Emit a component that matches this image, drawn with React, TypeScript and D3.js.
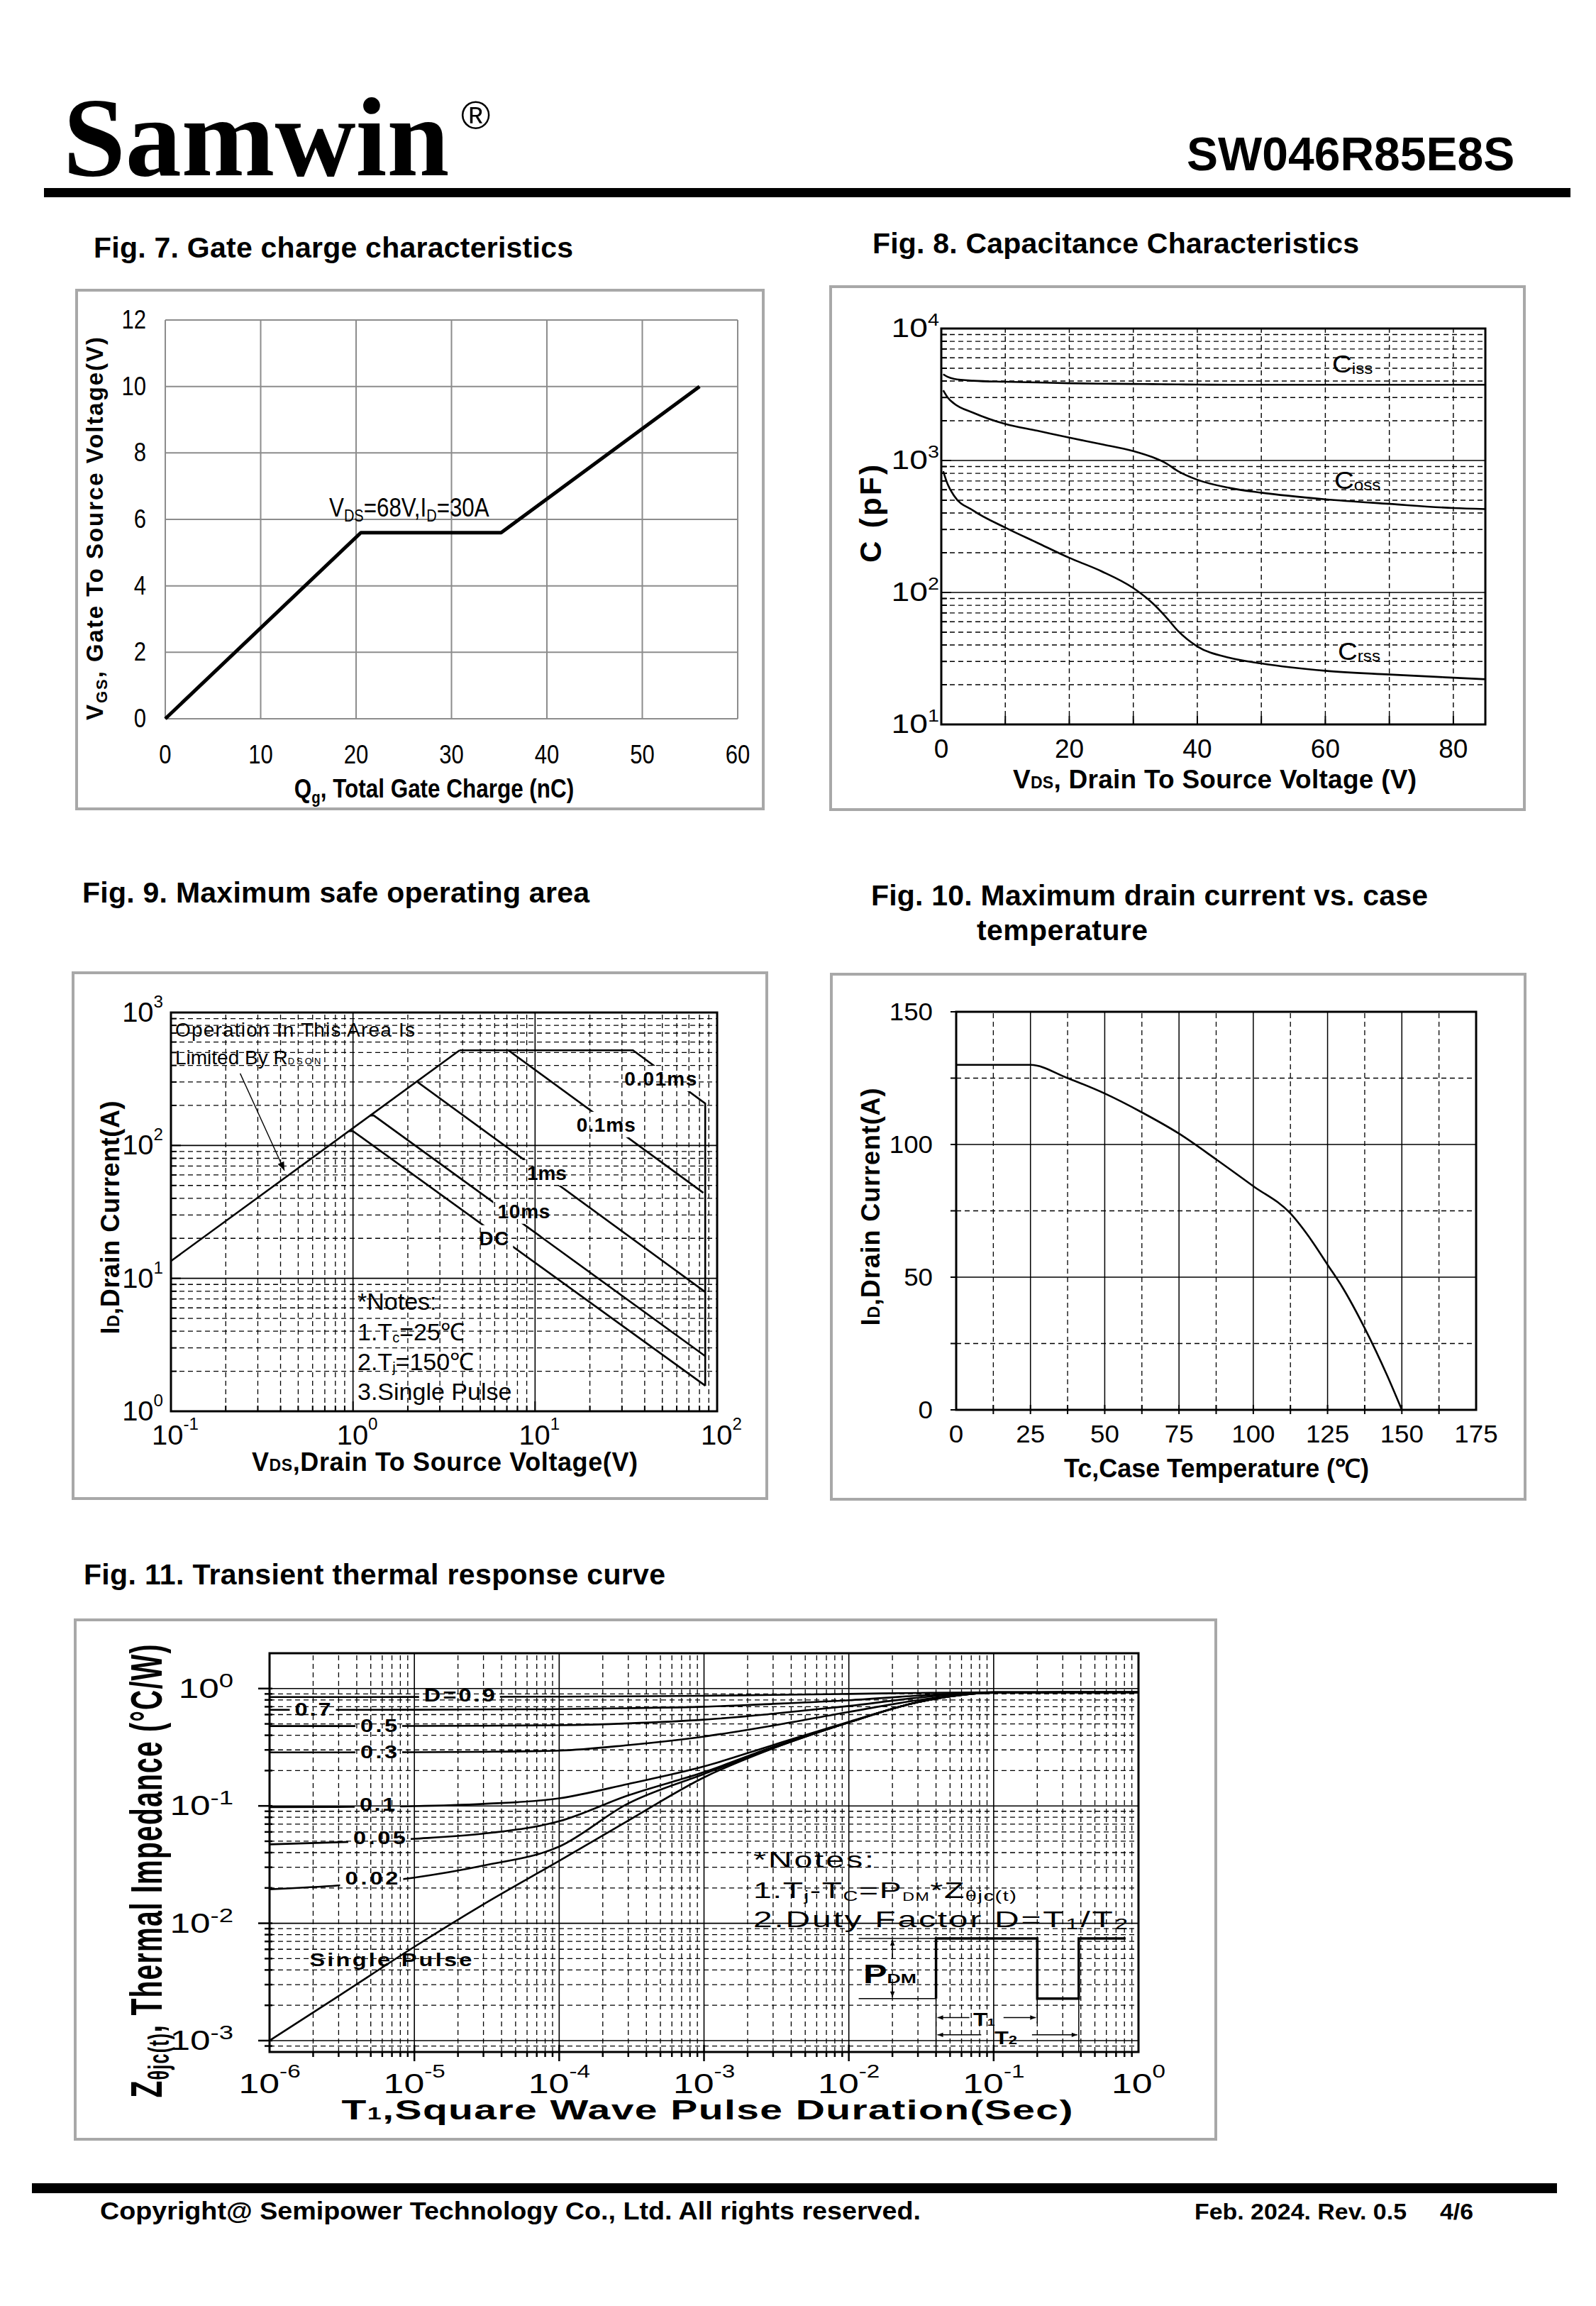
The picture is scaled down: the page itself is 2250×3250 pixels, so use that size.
import React from "react";
import * as d3 from "d3";

// ---------- Fig. 7 gate charge ----------
const qgNc = [0, 20.5, 35.2, 56];
const vgsV = [0, 5.6, 5.6, 10];
const fig7XTicks = [0, 10, 20, 30, 40, 50, 60];
const fig7YTicks = [0, 2, 4, 6, 8, 10, 12];

// ---------- Fig. 8 capacitance ----------
const capVds = [0.3, 1, 2, 5, 10, 15, 20, 25, 30, 33, 35, 37, 40, 45, 50, 60, 70, 80, 85];
const cissPf = [4500, 4300, 4150, 4020, 3950, 3900, 3850, 3820, 3800, 3790, 3780, 3770, 3760, 3750, 3750, 3750, 3750, 3750, 3750];
const cossPf = [3400, 3000, 2700, 2300, 1890, 1680, 1490, 1330, 1180, 1060, 960, 830, 715, 620, 570, 508, 469, 436, 428];
const crssPf = [830, 660, 540, 417, 310, 238, 183, 145, 108, 83, 66, 51, 39, 32, 29, 25.5, 23.9, 22.6, 22];
const fig8XTicks = [0, 20, 40, 60, 80];
const fig8XGrid = [10, 20, 30, 40, 50, 60, 70, 80];
const fig8Exps = [1, 2, 3, 4];

// ---------- Fig. 9 safe operating area ----------
const soaRdsVds = [0.1, 3.85];
const soaRdsId = [13.5, 520];
const soa10usVds = [3.85, 34.5, 86, 86];
const soa10usId = [520, 520, 207, 1.55];
const soa100usVds = [7.13, 84];
const soa100usId = [520, 44];
const soa1msVds = [2.26, 86];
const soa1msId = [300, 7.9];
const soa10msVds = [1.24, 1.3, 86];
const soa10msId = [168, 168, 2.6];
const soaDcVds = [0.95, 1.0, 86];
const soaDcId = [128, 128, 1.56];
const soaLabels = ["0.01ms", "0.1ms", "1ms", "10ms", "DC"];
const soaLabelVds = [48.9, 24.5, 11.6, 8.67, 5.94];
const soaLabelId = [282, 127, 55, 28.4, 17.8];
const soaLabelW = [102, 83, 56, 74, 42];
const fig9XExps = [-1, 0, 1, 2];
const fig9YExps = [0, 1, 2, 3];

// ---------- Fig. 10 drain current vs case temperature ----------
const tcC = [0, 25, 37.5, 50, 62.5, 75, 87.5, 100, 112.5, 120, 125, 130, 137.5, 145, 150];
const idMaxA = [130, 130, 125, 119.2, 112.1, 104.1, 94.4, 84.3, 74, 63.2, 54.7, 46.2, 30.8, 13.1, 0];
const fig10XTicks = [0, 25, 50, 75, 100, 125, 150, 175];
const fig10YTicks = [0, 50, 100, 150];

// ---------- Fig. 11 transient thermal response ----------
const pulseSec = [1e-6, 3e-6, 1e-5, 3e-5, 1e-4, 3e-4, 1e-3, 3e-3, 1e-2, 3e-2, 1e-1, 3e-1, 1];
const zD09 = [0.847, 0.847, 0.848, 0.85, 0.853, 0.858, 0.868, 0.882, 0.9, 0.918, 0.93, 0.93, 0.93];
const zD07 = [0.659, 0.659, 0.66, 0.663, 0.668, 0.68, 0.7, 0.74, 0.795, 0.87, 0.93, 0.93, 0.93];
const zD05 = [0.479, 0.479, 0.48, 0.482, 0.487, 0.505, 0.543, 0.61, 0.71, 0.835, 0.93, 0.93, 0.93];
const zD03 = [0.286, 0.286, 0.287, 0.289, 0.296, 0.33, 0.39, 0.484, 0.632, 0.795, 0.93, 0.93, 0.93];
const zD01 = [0.0975, 0.098, 0.0995, 0.104, 0.116, 0.154, 0.217, 0.33, 0.52, 0.765, 0.92, 0.93, 0.93];
const zD005 = [0.047, 0.049, 0.0525, 0.058, 0.074, 0.123, 0.194, 0.318, 0.515, 0.765, 0.92, 0.93, 0.93];
const zD002 = [0.0195, 0.021, 0.0245, 0.031, 0.045, 0.105, 0.187, 0.311, 0.515, 0.765, 0.92, 0.93, 0.93];
const zSingle = [0.001, 0.0024, 0.0063, 0.0145, 0.034, 0.075, 0.175, 0.31, 0.515, 0.765, 0.92, 0.93, 0.93];
const dutyLabels = ["D=0.9", "0.7", "0.5", "0.3", "0.1", "0.05", "0.02", "Single Pulse"];
const dutyLabelSec = [2.05e-5, 1.99e-6, 5.68e-6, 5.68e-6, 5.55e-6, 5.74e-6, 5.07e-6, 6.87e-6];
const dutyLabelZ = [0.779, 0.59, 0.429, 0.2565, 0.0905, 0.0471, 0.0213, 0.00432];
const dutyLabelW = [100, 51, 52, 52, 50, 74, 75, 229];
const fig11XExps = [-6, -5, -4, -3, -2, -1, 0];
const fig11YExps = [-3, -2, -1, 0];
// P_DM waveform sketch (sec, K/W)
const waveSec = [0.04, 0.04, 0.2, 0.2, 0.387, 0.387, 0.815];
const waveZ = [0.00228, 0.00743, 0.00743, 0.00228, 0.00228, 0.00743, 0.00743];

const SANS = "'Liberation Sans', Arial, Helvetica, sans-serif";
const SERIF = "'Liberation Serif', 'Times New Roman', serif";
const DASH = "7,5";

const pts = (xs: number[], ys: number[]) => xs.map((x, i) => [x, ys[i]] as [number, number]);

function logGrid(lo: number, hi: number) {
  const out: number[] = [];
  for (let e = Math.floor(Math.log10(lo)); e <= Math.ceil(Math.log10(hi)); e++) {
    for (let m = 1; m <= 9; m++) {
      const v = m * Math.pow(10, e);
      if (v > lo * 1.0001 && v < hi * 0.9999) out.push(v);
    }
  }
  return out;
}
const isDecade = (v: number) => Math.abs(Math.log10(v) - Math.round(Math.log10(v))) < 1e-6;

function Pow10({ x, y, exp, size, sup, anchor = "middle", k = 1, rise }: any) {
  return (
    <text transform={`translate(${x},${y}) scale(${k},1)`} textAnchor={anchor} fontSize={size} fontFamily={SANS}>
      10<tspan fontSize={sup} dy={-rise}>{exp}</tspan>
    </text>
  );
}

function SText({ x, y, w, k = 1, size, weight = "normal", anchor = "start", adj = "spacing", children }: any) {
  return (
    <text
      transform={`translate(${x},${y}) scale(${k},1)`}
      fontSize={size}
      fontWeight={weight}
      fontFamily={SANS}
      textAnchor={anchor}
      textLength={w ? w / k : undefined}
      lengthAdjust={adj}
    >
      {children}
    </text>
  );
}

function Fig7() {
  const x = d3.scaleLinear().domain([0, 60]).range([233, 1040]);
  const y = d3.scaleLinear().domain([0, 12]).range([1013, 451]);
  const line = d3.line<[number, number]>().x((d) => x(d[0])).y((d) => y(d[1]));
  return (
    <g>
      <SText x={132} y={363} w={676} size={41} weight="bold">Fig. 7. Gate charge characteristics</SText>
      <rect x={108} y={409} width={968} height={731} fill="none" stroke="#a8a8a8" strokeWidth={4} />
      {fig7XTicks.map((t) => (
        <line key={"vx" + t} x1={x(t)} x2={x(t)} y1={y(0)} y2={y(12)} stroke="#8c8c8c" strokeWidth={2} />
      ))}
      {fig7YTicks.map((t) => (
        <line key={"hy" + t} x1={x(0)} x2={x(60)} y1={y(t)} y2={y(t)} stroke="#8c8c8c" strokeWidth={2} />
      ))}
      <path d={line(pts(qgNc, vgsV)) || ""} fill="none" stroke="#000" strokeWidth={5} strokeLinejoin="round" />
      {fig7YTicks.map((t) => (
        <SText key={"ly" + t} x={206} y={y(t) + 12} k={0.84} size={37} anchor="end">{t}</SText>
      ))}
      {fig7XTicks.map((t) => (
        <SText key={"lx" + t} x={x(t)} y={1076} k={0.84} size={37} anchor="middle">{t}</SText>
      ))}
      <SText x={464} y={728} k={0.87} size={36}>
        V<tspan fontSize={23} dy={7}>DS</tspan><tspan dy={-7}>=68V,I</tspan><tspan fontSize={23} dy={7}>D</tspan><tspan dy={-7}>=30A</tspan>
      </SText>
      <SText x={612} y={1124} k={0.85} size={37} weight="bold" anchor="middle">
        Q<tspan fontSize={24} dy={8}>g</tspan><tspan dy={-8}>, Total Gate Charge (nC)</tspan>
      </SText>
      <text transform="translate(145,745) rotate(-90)" textAnchor="middle" fontSize={33} fontWeight="bold" fontFamily={SANS} textLength={540}>
        V<tspan fontSize={22} dy={6}>GS</tspan><tspan dy={-6}>,  Gate To  Source Voltage(V)</tspan>
      </text>
    </g>
  );
}

function Fig8() {
  const x = d3.scaleLinear().domain([0, 85]).range([1327, 2094]);
  const y = d3.scaleLog().domain([10, 1e4]).range([1021, 463]);
  const line = d3.line<[number, number]>().x((d) => x(d[0])).y((d) => y(d[1])).curve(d3.curveMonotoneX);
  const minors = logGrid(10, 1e4);
  const curves = [cissPf, cossPf, crssPf];
  return (
    <g>
      <SText x={1230} y={357} w={686} size={41} weight="bold">Fig. 8. Capacitance Characteristics</SText>
      <rect x={1171} y={404} width={978} height={737} fill="none" stroke="#a8a8a8" strokeWidth={4} />
      {fig8XGrid.map((t) => (
        <line key={"vx" + t} x1={x(t)} x2={x(t)} y1={y(10)} y2={y(1e4)} stroke="#000" strokeWidth={1.4} strokeDasharray={DASH} />
      ))}
      {minors.map((v) => (
        <line key={"hy" + v} x1={x(0)} x2={x(85)} y1={y(v)} y2={y(v)} stroke="#000" strokeWidth={isDecade(v) ? 1.6 : 1.3} strokeDasharray={isDecade(v) ? undefined : DASH} />
      ))}
      {minors.map((v) => (
        <line key={"ty" + v} x1={x(0)} x2={x(0) + (isDecade(v) ? 14 : 8)} y1={y(v)} y2={y(v)} stroke="#000" strokeWidth={2} />
      ))}
      {fig8XGrid.map((t) => (
        <line key={"tx" + t} x1={x(t)} x2={x(t)} y1={y(10)} y2={y(10) - 12} stroke="#000" strokeWidth={2} />
      ))}
      <rect x={x(0)} y={y(1e4)} width={x(85) - x(0)} height={y(10) - y(1e4)} fill="none" stroke="#000" strokeWidth={3} />
      {curves.map((c, i) => (
        <path key={"c" + i} d={line(pts(capVds, c)) || ""} fill="none" stroke="#000" strokeWidth={2.6} />
      ))}
      <SText x={1878} y={525} k={1.1} size={35}>C<tspan fontSize={22} dy={2}>iss</tspan></SText>
      <SText x={1881} y={689} k={1.1} size={35}>C<tspan fontSize={22} dy={2}>oss</tspan></SText>
      <SText x={1886} y={930} k={1.1} size={35}>C<tspan fontSize={22} dy={2}>rss</tspan></SText>
      {fig8Exps.map((e) => (
        <Pow10 key={"ly" + e} x={1324} y={y(Math.pow(10, e)) + 12} exp={e} size={37} sup={23} anchor="end" k={1.25} rise={16} />
      ))}
      {fig8XTicks.map((t) => (
        <text key={"lx" + t} x={x(t)} y={1068} textAnchor="middle" fontSize={37} fontFamily={SANS}>{t}</text>
      ))}
      <SText x={1428} y={1111} w={569} size={37} weight="bold">
        V<tspan fontSize={23}>DS</tspan>, Drain To Source Voltage (V)
      </SText>
      <text transform="translate(1242,724) rotate(-90)" textAnchor="middle" fontSize={42} fontWeight="bold" fontFamily={SANS} textLength={138}>C (pF)</text>
    </g>
  );
}

function Fig9() {
  const x = d3.scaleLog().domain([0.1, 100]).range([241, 1011]);
  const y = d3.scaleLog().domain([1, 1000]).range([1989, 1427]);
  const line = d3.line<[number, number]>().x((d) => x(d[0])).y((d) => y(d[1]));
  const xm = logGrid(0.1, 100);
  const ym = logGrid(1, 1000);
  const series = [
    pts(soaRdsVds, soaRdsId),
    pts(soa10usVds, soa10usId),
    pts(soa100usVds, soa100usId),
    pts(soa1msVds, soa1msId),
    pts(soa10msVds, soa10msId),
    pts(soaDcVds, soaDcId),
  ];
  return (
    <g>
      <SText x={116} y={1272} w={715} size={41} weight="bold">Fig. 9. Maximum safe operating area</SText>
      <rect x={103} y={1371} width={978} height={741} fill="none" stroke="#a8a8a8" strokeWidth={4} />
      <mask id="m9" maskUnits="userSpaceOnUse" x={0} y={0} width={2250} height={3250}>
        <rect x={0} y={0} width={2250} height={3250} fill="#fff" />
        {soaLabels.map((l, i) => (
          <rect key={l} x={x(soaLabelVds[i]) - soaLabelW[i] / 2 - 6} y={y(soaLabelId[i]) - 28} width={soaLabelW[i] + 12} height={36} fill="#000" />
        ))}
      </mask>
      {xm.map((v) => (
        <line key={"vx" + v} x1={x(v)} x2={x(v)} y1={y(1)} y2={y(1000)} stroke="#000" strokeWidth={isDecade(v) ? 1.6 : 1.3} strokeDasharray={isDecade(v) ? undefined : DASH} />
      ))}
      {ym.map((v) => (
        <line key={"hy" + v} x1={x(0.1)} x2={x(100)} y1={y(v)} y2={y(v)} stroke="#000" strokeWidth={isDecade(v) ? 1.6 : 1.3} strokeDasharray={isDecade(v) ? undefined : DASH} />
      ))}
      {xm.map((v) => (
        <line key={"tx" + v} x1={x(v)} x2={x(v)} y1={y(1)} y2={y(1) - (isDecade(v) ? 14 : 8)} stroke="#000" strokeWidth={2} />
      ))}
      {ym.map((v) => (
        <line key={"ty" + v} x1={x(0.1)} x2={x(0.1) + (isDecade(v) ? 14 : 8)} y1={y(v)} y2={y(v)} stroke="#000" strokeWidth={2} />
      ))}
      <rect x={x(0.1)} y={y(1000)} width={x(100) - x(0.1)} height={y(1) - y(1000)} fill="none" stroke="#000" strokeWidth={3} />
      <g mask="url(#m9)">
        {series.map((s, i) => (
          <path key={"s" + i} d={line(s) || ""} fill="none" stroke="#000" strokeWidth={2.6} />
        ))}
      </g>
      {soaLabels.map((l, i) => (
        <text key={"l" + l} x={x(soaLabelVds[i])} y={y(soaLabelId[i])} textAnchor="middle" fontSize={28} fontWeight="bold" fontFamily={SANS} textLength={soaLabelW[i]}>{l}</text>
      ))}
      <text x={247} y={1461} fontSize={28} fontFamily={SANS} textLength={338}>Operation In This Area Is</text>
      <text x={247} y={1500} fontSize={28} fontFamily={SANS}>
        Limited By R<tspan fontSize={13} letterSpacing={3}>DSON</tspan>
      </text>
      <line x1={x(0.24)} y1={y(348)} x2={x(0.42)} y2={y(64.7)} stroke="#000" strokeWidth={1.4} markerEnd="url(#arrowThin)" />
      <text x={504} y={1846} fontSize={34} fontFamily={SANS}>*Notes:</text>
      <text x={504} y={1889} fontSize={34} fontFamily={SANS}>
        1.T<tspan fontSize={20} dy={3}>c</tspan><tspan dy={-3}>=25℃</tspan>
      </text>
      <text x={504} y={1931} fontSize={34} fontFamily={SANS}>
        2.T<tspan fontSize={20} dy={3}>j</tspan><tspan dy={-3}>=150℃</tspan>
      </text>
      <text x={504} y={1973} fontSize={34} fontFamily={SANS}>3.Single Pulse</text>
      {fig9YExps.map((e) => (
        <Pow10 key={"ly" + e} x={230} y={y(Math.pow(10, e)) + 13} exp={e} size={38} sup={23} anchor="end" k={1.05} rise={20} />
      ))}
      {fig9XExps.map((e) => (
        <Pow10 key={"lx" + e} x={x(Math.pow(10, e)) + 6} y={2036} exp={e} size={38} sup={23} anchor="middle" k={1.05} rise={21} />
      ))}
      <SText x={355} y={2073} w={544} size={36} weight="bold">
        V<tspan fontSize={23}>DS</tspan>,Drain To Source Voltage(V)
      </SText>
      <text transform="translate(168,1716) rotate(-90)" textAnchor="middle" fontSize={36} fontWeight="bold" fontFamily={SANS} textLength={329}>
        I<tspan fontSize={23}>D</tspan>,Drain Current(A)
      </text>
    </g>
  );
}

function Fig10() {
  const x = d3.scaleLinear().domain([0, 175]).range([1348, 2081]);
  const y = d3.scaleLinear().domain([0, 150]).range([1987, 1426]);
  const line = d3.line<[number, number]>().x((d) => x(d[0])).y((d) => y(d[1])).curve(d3.curveMonotoneX);
  const xg = d3.range(12.5, 175, 12.5);
  const yg = d3.range(25, 150, 25);
  return (
    <g>
      <SText x={1228} y={1276} w={785} size={41} weight="bold">Fig. 10. Maximum drain current vs. case</SText>
      <SText x={1377} y={1325} w={241} size={41} weight="bold">temperature</SText>
      <rect x={1172} y={1373} width={978} height={740} fill="none" stroke="#a8a8a8" strokeWidth={4} />
      {xg.map((t) => (
        <line key={"vx" + t} x1={x(t)} x2={x(t)} y1={y(0)} y2={y(150)} stroke="#000" strokeWidth={t % 25 === 0 ? 1.5 : 1.3} strokeDasharray={t % 25 === 0 ? undefined : DASH} />
      ))}
      {yg.map((t) => (
        <line key={"hy" + t} x1={x(0)} x2={x(175)} y1={y(t)} y2={y(t)} stroke="#000" strokeWidth={t % 50 === 0 ? 1.5 : 1.3} strokeDasharray={t % 50 === 0 ? undefined : DASH} />
      ))}
      {xg.map((t) => (
        <line key={"tx" + t} x1={x(t)} x2={x(t)} y1={y(0) + 6} y2={y(0) - 7} stroke="#000" strokeWidth={2} />
      ))}
      {d3.range(0, 175, 25).map((t) => (
        <line key={"ty" + t} x1={x(0) - 8} x2={x(0)} y1={y(t)} y2={y(t)} stroke="#000" strokeWidth={2} />
      ))}
      <rect x={x(0)} y={y(150)} width={x(175) - x(0)} height={y(0) - y(150)} fill="none" stroke="#000" strokeWidth={3} />
      <path d={line(pts(tcC, idMaxA)) || ""} fill="none" stroke="#000" strokeWidth={2.6} />
      {fig10YTicks.map((t) => (
        <SText key={"ly" + t} x={1315} y={y(t) + 12} k={1.05} size={35} anchor="end">{t}</SText>
      ))}
      {fig10XTicks.map((t) => (
        <SText key={"lx" + t} x={x(t)} y={2033} k={1.05} size={35} anchor="middle">{t}</SText>
      ))}
      <SText x={1500} y={2082} w={430} size={36} weight="bold">Tc,Case Temperature (℃)</SText>
      <text transform="translate(1240,1701) rotate(-90)" textAnchor="middle" fontSize={36} fontWeight="bold" fontFamily={SANS} textLength={335}>
        I<tspan fontSize={23}>D</tspan>,Drain Current(A)
      </text>
    </g>
  );
}

function Fig11() {
  const x = d3.scaleLog().domain([1e-6, 1]).range([380, 1605]);
  const y = d3.scaleLog().domain([8e-4, 2]).range([2892, 2330]);
  const line = d3.line<[number, number]>().x((d) => x(d[0])).y((d) => y(d[1])).curve(d3.curveMonotoneX);
  const straight = d3.line<[number, number]>().x((d) => x(d[0])).y((d) => y(d[1]));
  const xm = logGrid(1e-6, 1);
  const ym = logGrid(8e-4, 2);
  const curves = [zD09, zD07, zD05, zD03, zD01, zD005, zD002, zSingle];
  const axisBottom = y(8e-4);
  return (
    <g>
      <SText x={118} y={2233} w={820} size={41} weight="bold">Fig. 11. Transient thermal response curve</SText>
      <rect x={106} y={2283} width={1608} height={732} fill="none" stroke="#a8a8a8" strokeWidth={4} />
      <mask id="m11" maskUnits="userSpaceOnUse" x={0} y={0} width={2250} height={3250}>
        <rect x={0} y={0} width={2250} height={3250} fill="#fff" />
        {dutyLabels.slice(0, 7).map((l, i) => (
          <rect key={l} x={x(dutyLabelSec[i]) - dutyLabelW[i] / 2 - 7} y={y(dutyLabelZ[i]) - 22} width={dutyLabelW[i] + 14} height={27} fill="#000" />
        ))}
      </mask>
      {xm.map((v) => (
        <line key={"vx" + v} x1={x(v)} x2={x(v)} y1={axisBottom} y2={y(2)} stroke="#000" strokeWidth={isDecade(v) ? 1.6 : 1.3} strokeDasharray={isDecade(v) ? undefined : DASH} />
      ))}
      {ym.map((v) => (
        <line key={"hy" + v} x1={x(1e-6)} x2={x(1)} y1={y(v)} y2={y(v)} stroke="#000" strokeWidth={isDecade(v) ? 1.6 : 1.3} strokeDasharray={isDecade(v) ? undefined : DASH} />
      ))}
      {xm.map((v) => (
        <line key={"tx" + v} x1={x(v)} x2={x(v)} y1={axisBottom - (isDecade(v) ? 10 : 0)} y2={axisBottom + (isDecade(v) ? 13 : 7)} stroke="#000" strokeWidth={2.5} />
      ))}
      {ym.map((v) => (
        <line key={"ty" + v} x1={x(1e-6) - (isDecade(v) ? 16 : 7)} x2={x(1e-6) + 4} y1={y(v)} y2={y(v)} stroke="#000" strokeWidth={2.5} />
      ))}
      <rect x={x(1e-6)} y={y(2)} width={x(1) - x(1e-6)} height={axisBottom - y(2)} fill="none" stroke="#000" strokeWidth={3} />
      <g mask="url(#m11)">
        {curves.map((c, i) => (
          <path key={"c" + i} d={line(pts(pulseSec, c)) || ""} fill="none" stroke="#000" strokeWidth={2.6} />
        ))}
      </g>
      {dutyLabels.map((l, i) => (
        <SText key={"dl" + l} x={x(dutyLabelSec[i])} y={y(dutyLabelZ[i])} w={dutyLabelW[i]} k={1.3} size={25} weight="bold" anchor="middle">{l}</SText>
      ))}
      <SText x={1062} y={2632} w={170} k={1.45} size={32}>*Notes:</SText>
      <SText x={1062} y={2675} w={371} k={1.45} size={32}>
        1.T<tspan fontSize={20} dy={4}>j</tspan><tspan dy={-4}>-T</tspan><tspan fontSize={20} dy={4}>C</tspan><tspan dy={-4}>=P</tspan><tspan fontSize={16} dy={4}>DM</tspan><tspan dy={-4}>*Z</tspan><tspan fontSize={20} dy={4}>θjc(t)</tspan>
      </SText>
      <SText x={1062} y={2716} w={528} k={1.5} size={32}>
        2.Duty Factor D=T<tspan fontSize={22} dy={3}>1</tspan><tspan dy={-3}>/T</tspan><tspan fontSize={22} dy={3}>2</tspan>
      </SText>
      {/* P_DM pulse sketch */}
      <path d={straight(pts(waveSec, waveZ)) || ""} fill="none" stroke="#000" strokeWidth={3.5} />
      <line x1={x(0.0117)} x2={x(0.04)} y1={y(0.00743)} y2={y(0.00743)} stroke="#000" strokeWidth={1.5} />
      <line x1={x(0.0117)} x2={x(0.04)} y1={y(0.00228)} y2={y(0.00228)} stroke="#000" strokeWidth={1.5} />
      <line x1={x(0.02)} x2={x(0.02)} y1={y(0.0051)} y2={y(0.00743) + 2} stroke="#000" strokeWidth={1.5} markerEnd="url(#arrowFill)" />
      <line x1={x(0.02)} x2={x(0.02)} y1={y(0.00314)} y2={y(0.00228) - 2} stroke="#000" strokeWidth={1.5} markerEnd="url(#arrowFill)" />
      <line x1={x(0.04)} x2={x(0.04)} y1={y(0.00228)} y2={axisBottom} stroke="#000" strokeWidth={1.5} />
      <line x1={x(0.2)} x2={x(0.2)} y1={y(0.00228)} y2={y(0.0014)} stroke="#000" strokeWidth={1.5} />
      <line x1={x(0.387)} x2={x(0.387)} y1={y(0.00228)} y2={axisBottom} stroke="#000" strokeWidth={1.5} />
      <line x1={x(0.068)} x2={x(0.04) + 2} y1={y(0.00157)} y2={y(0.00157)} stroke="#000" strokeWidth={1.5} markerEnd="url(#arrowFill)" />
      <line x1={x(0.117)} x2={x(0.2) - 2} y1={y(0.00157)} y2={y(0.00157)} stroke="#000" strokeWidth={1.5} markerEnd="url(#arrowFill)" />
      <line x1={x(0.082)} x2={x(0.04) + 2} y1={y(0.00112)} y2={y(0.00112)} stroke="#000" strokeWidth={1.5} markerEnd="url(#arrowFill)" />
      <line x1={x(0.184)} x2={x(0.387) - 2} y1={y(0.00112)} y2={y(0.00112)} stroke="#000" strokeWidth={1.5} markerEnd="url(#arrowFill)" />
      <SText x={1217} y={2795} k={1.4} size={36} weight="bold">
        P<tspan fontSize={19}>DM</tspan>
      </SText>
      <SText x={1372} y={2855} k={1.3} size={25} weight="bold">
        T<tspan fontSize={15}>1</tspan>
      </SText>
      <SText x={1402} y={2881} k={1.3} size={25} weight="bold">
        T<tspan fontSize={17}>2</tspan>
      </SText>
      {fig11XExps.map((e) => (
        <Pow10 key={"lx" + e} x={x(Math.pow(10, e))} y={2950} exp={e} size={39} sup={25} anchor="middle" k={1.33} rise={22} />
      ))}
      {fig11YExps.map((e) => (
        <Pow10 key={"ly" + e} x={329} y={y(Math.pow(10, e)) + 13} exp={e} size={38} sup={27} anchor="end" k={1.35} rise={15} />
      ))}
      <SText x={997} y={2987} w={1031} k={1.5} size={38} weight="bold" anchor="middle">
        T<tspan fontSize={24}>1</tspan>,Square Wave Pulse Duration(Sec)
      </SText>
      <text transform="translate(228,2637) scale(1.6,1) rotate(-90)" textAnchor="middle" fontSize={39} fontWeight="bold" fontFamily={SANS} textLength={639}>
        Z<tspan fontSize={25} dy={6}>θjc(t)</tspan><tspan dy={-6}>, Thermal  Impedance (°C/W)</tspan>
      </text>
    </g>
  );
}

export default function App() {
  return (
    <svg
      width={2250}
      height={3250}
      viewBox="0 0 2250 3250"
      style={{ position: "absolute", left: 0, top: 0, background: "#fff" }}
      xmlns="http://www.w3.org/2000/svg"
    >
      <defs>
        <marker id="arrowFill" viewBox="0 0 10 10" refX={10} refY={5} markerWidth={10} markerHeight={8} orient="auto" markerUnits="userSpaceOnUse">
          <path d="M0,1 L10,5 L0,9 z" fill="#000" />
        </marker>
        <marker id="arrowThin" viewBox="0 0 10 10" refX={10} refY={5} markerWidth={14} markerHeight={12} orient="auto" markerUnits="userSpaceOnUse">
          <path d="M0,1 L10,5 L0,9 z" fill="#000" />
        </marker>
      </defs>
      <rect x={0} y={0} width={2250} height={3250} fill="#fff" />

      {/* header */}
      <text x={89} y={247} fontFamily={SERIF} fontWeight="bold" fontSize={158}>Samwin</text>
      <text x={650} y={182} fontFamily={SANS} fontSize={56}>®</text>
      <text x={1673} y={240} fontFamily={SANS} fontWeight="bold" fontSize={66}>SW046R85E8S</text>
      <rect x={62} y={265} width={2152} height={13} fill="#000" />

      <Fig7 />
      <Fig8 />
      <Fig9 />
      <Fig10 />
      <Fig11 />

      {/* footer */}
      <rect x={45} y={3077} width={2150} height={14} fill="#000" />
      <text x={141} y={3128} fontFamily={SANS} fontWeight="bold" fontSize={35} textLength={1157} lengthAdjust="spacingAndGlyphs">Copyright@ Semipower Technology Co., Ltd. All rights reserved.</text>
      <text x={1684} y={3128} fontFamily={SANS} fontWeight="bold" fontSize={31} textLength={299} lengthAdjust="spacingAndGlyphs">Feb. 2024. Rev. 0.5</text>
      <text x={2030} y={3128} fontFamily={SANS} fontWeight="bold" fontSize={31} textLength={47} lengthAdjust="spacingAndGlyphs">4/6</text>
    </svg>
  );
}
